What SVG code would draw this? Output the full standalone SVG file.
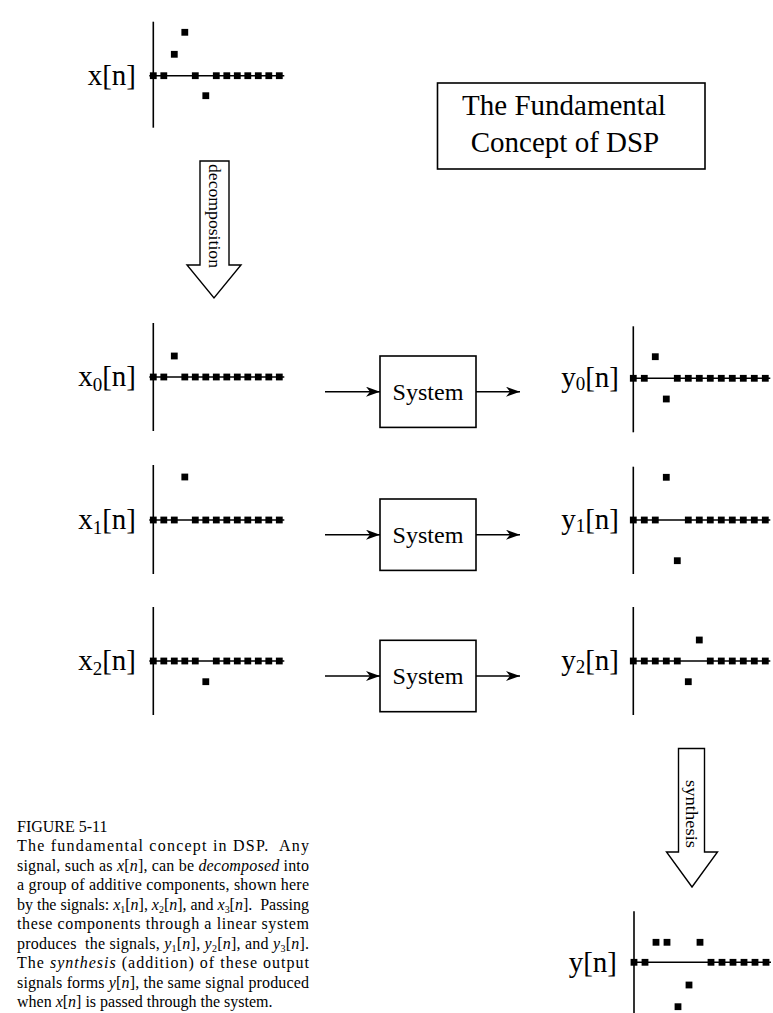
<svg xmlns="http://www.w3.org/2000/svg" width="773" height="1013" viewBox="0 0 773 1013">
<defs>
<style>
.ax{stroke:#000;stroke-width:1.6;fill:none}
.lbl{font-family:"Liberation Serif","Times New Roman",serif;font-size:29px;fill:#000}
.sub{font-size:19px}
.box{fill:#fff;stroke:#000;stroke-width:1.6}
.sys{font-family:"Liberation Serif","Times New Roman",serif;font-size:24px;fill:#000}
.ttl{font-family:"Liberation Serif","Times New Roman",serif;font-size:29px;fill:#000}
.cap{font-family:"Liberation Serif","Times New Roman",serif;font-size:16px;fill:#000}
.it{font-style:italic}
.cs{font-size:10px}
.blk{fill:#fff;stroke:#000;stroke-width:1.4}
.rot{font-family:"Liberation Serif","Times New Roman",serif;font-size:17px;fill:#000}
.conn{stroke:#000;stroke-width:1.6;fill:none}
</style>
<rect id="d" x="-3.4" y="-3.4" width="6.8" height="6.8" fill="#000"/>
<marker id="ah" viewBox="0 0 14 10" refX="14" refY="5" markerWidth="14" markerHeight="10" markerUnits="userSpaceOnUse" orient="auto">
<path d="M0,0 L14,5 L0,10 L4,5 Z" fill="#000"/>
</marker>
</defs>
<rect width="773" height="1013" fill="#fff"/>

<g id="plot-x">
<text class="lbl" x="136" y="85" text-anchor="end">x[n]</text>
<g transform="translate(153.3,75.7)">
<line class="ax" x1="0" y1="-54" x2="0" y2="52"/>
<line class="ax" x1="-4" y1="0" x2="131" y2="0"/>
<use href="#d" x="0" y="0"/><use href="#d" x="10.5" y="0"/><use href="#d" x="21" y="-21.4"/><use href="#d" x="31.5" y="-43.4"/><use href="#d" x="42" y="0"/><use href="#d" x="52.5" y="20"/><use href="#d" x="63" y="0"/><use href="#d" x="73.5" y="0"/><use href="#d" x="84" y="0"/><use href="#d" x="94.5" y="0"/><use href="#d" x="105" y="0"/><use href="#d" x="115.5" y="0"/><use href="#d" x="126" y="0"/>
</g>
</g>

<g id="title">
<rect x="437.5" y="83" width="267.5" height="86" fill="#fff" stroke="#000" stroke-width="1.6"/>
<text class="ttl" x="564" y="115" text-anchor="middle">The Fundamental</text>
<text class="ttl" x="565" y="152" text-anchor="middle">Concept of DSP</text>
</g>

<g id="decomposition">
<path class="blk" d="M200,161 L229,161 L229,265 L241,265 L214,298 L187,265 L200,265 Z"/>
<text class="rot" transform="translate(214.5,216) rotate(90)" text-anchor="middle" dy="0.33em" textLength="104" lengthAdjust="spacingAndGlyphs">decomposition</text>
</g>

<g id="plot-x0">
<text class="lbl" x="136" y="386" text-anchor="end">x<tspan class="sub" dy="5">0</tspan><tspan dy="-5">[n]</tspan></text>
<g transform="translate(153.3,377)">
<line class="ax" x1="0" y1="-54" x2="0" y2="54"/>
<line class="ax" x1="-4" y1="0" x2="131" y2="0"/>
<use href="#d" x="0" y="0"/><use href="#d" x="10.5" y="0"/><use href="#d" x="21" y="-21"/><use href="#d" x="31.5" y="0"/><use href="#d" x="42" y="0"/><use href="#d" x="52.5" y="0"/><use href="#d" x="63" y="0"/><use href="#d" x="73.5" y="0"/><use href="#d" x="84" y="0"/><use href="#d" x="94.5" y="0"/><use href="#d" x="105" y="0"/><use href="#d" x="115.5" y="0"/><use href="#d" x="126" y="0"/>
</g>
</g>

<g id="plot-x1">
<text class="lbl" x="136" y="529" text-anchor="end">x<tspan class="sub" dy="5">1</tspan><tspan dy="-5">[n]</tspan></text>
<g transform="translate(153.3,520)">
<line class="ax" x1="0" y1="-55" x2="0" y2="54"/>
<line class="ax" x1="-4" y1="0" x2="131" y2="0"/>
<use href="#d" x="0" y="0"/><use href="#d" x="10.5" y="0"/><use href="#d" x="21" y="0"/><use href="#d" x="31.5" y="-43"/><use href="#d" x="42" y="0"/><use href="#d" x="52.5" y="0"/><use href="#d" x="63" y="0"/><use href="#d" x="73.5" y="0"/><use href="#d" x="84" y="0"/><use href="#d" x="94.5" y="0"/><use href="#d" x="105" y="0"/><use href="#d" x="115.5" y="0"/><use href="#d" x="126" y="0"/>
</g>
</g>

<g id="plot-x2">
<text class="lbl" x="136" y="670" text-anchor="end">x<tspan class="sub" dy="5">2</tspan><tspan dy="-5">[n]</tspan></text>
<g transform="translate(153.3,661)">
<line class="ax" x1="0" y1="-54" x2="0" y2="54"/>
<line class="ax" x1="-4" y1="0" x2="131" y2="0"/>
<use href="#d" x="0" y="0"/><use href="#d" x="10.5" y="0"/><use href="#d" x="21" y="0"/><use href="#d" x="31.5" y="0"/><use href="#d" x="42" y="0"/><use href="#d" x="52.5" y="20.7"/><use href="#d" x="63" y="0"/><use href="#d" x="73.5" y="0"/><use href="#d" x="84" y="0"/><use href="#d" x="94.5" y="0"/><use href="#d" x="105" y="0"/><use href="#d" x="115.5" y="0"/><use href="#d" x="126" y="0"/>
</g>
</g>

<g id="system0">
<rect class="box" x="380" y="356" width="96" height="71.4"/>
<text class="sys" x="428" y="400" text-anchor="middle" textLength="71" lengthAdjust="spacingAndGlyphs">System</text>
</g>
<g id="system1">
<rect class="box" x="380" y="499" width="96" height="71.4"/>
<text class="sys" x="428" y="543" text-anchor="middle" textLength="71" lengthAdjust="spacingAndGlyphs">System</text>
</g>
<g id="system2">
<rect class="box" x="380" y="640.3" width="96" height="71.4"/>
<text class="sys" x="428" y="684.3" text-anchor="middle" textLength="71" lengthAdjust="spacingAndGlyphs">System</text>
</g>

<g id="connectors">
<line class="conn" x1="325" y1="391.7" x2="380" y2="391.7" marker-end="url(#ah)"/>
<line class="conn" x1="476" y1="391.7" x2="520" y2="391.7" marker-end="url(#ah)"/>
<line class="conn" x1="325" y1="534.7" x2="380" y2="534.7" marker-end="url(#ah)"/>
<line class="conn" x1="476" y1="534.7" x2="520" y2="534.7" marker-end="url(#ah)"/>
<line class="conn" x1="325" y1="676" x2="380" y2="676" marker-end="url(#ah)"/>
<line class="conn" x1="476" y1="676" x2="520" y2="676" marker-end="url(#ah)"/>
</g>

<g id="plot-y0">
<text class="lbl" x="619" y="387" text-anchor="end">y<tspan class="sub" dy="3">0</tspan><tspan dy="-3">[n]</tspan></text>
<g transform="translate(633.3,378.3)">
<line class="ax" x1="0" y1="-52" x2="0" y2="54"/>
<line class="ax" x1="-3" y1="0" x2="137" y2="0"/>
<use href="#d" x="0" y="0"/><use href="#d" x="11" y="0"/><use href="#d" x="22" y="-21.6"/><use href="#d" x="33" y="20.7"/><use href="#d" x="44" y="0"/><use href="#d" x="55" y="0"/><use href="#d" x="66" y="0"/><use href="#d" x="77" y="0"/><use href="#d" x="88" y="0"/><use href="#d" x="99" y="0"/><use href="#d" x="110" y="0"/><use href="#d" x="121" y="0"/><use href="#d" x="132" y="0"/>
</g>
</g>

<g id="plot-y1">
<text class="lbl" x="619" y="529" text-anchor="end">y<tspan class="sub" dy="3">1</tspan><tspan dy="-3">[n]</tspan></text>
<g transform="translate(633.3,520)">
<line class="ax" x1="0" y1="-53.3" x2="0" y2="54"/>
<line class="ax" x1="-3" y1="0" x2="137" y2="0"/>
<use href="#d" x="0" y="0"/><use href="#d" x="11" y="0"/><use href="#d" x="22" y="0"/><use href="#d" x="33" y="-42.7"/><use href="#d" x="44" y="40.7"/><use href="#d" x="55" y="0"/><use href="#d" x="66" y="0"/><use href="#d" x="77" y="0"/><use href="#d" x="88" y="0"/><use href="#d" x="99" y="0"/><use href="#d" x="110" y="0"/><use href="#d" x="121" y="0"/><use href="#d" x="132" y="0"/>
</g>
</g>

<g id="plot-y2">
<text class="lbl" x="619" y="670" text-anchor="end">y<tspan class="sub" dy="3">2</tspan><tspan dy="-3">[n]</tspan></text>
<g transform="translate(633.3,661)">
<line class="ax" x1="0" y1="-54" x2="0" y2="54"/>
<line class="ax" x1="-3" y1="0" x2="137" y2="0"/>
<use href="#d" x="0" y="0"/><use href="#d" x="11" y="0"/><use href="#d" x="22" y="0"/><use href="#d" x="33" y="0"/><use href="#d" x="44" y="0"/><use href="#d" x="55" y="20.7"/><use href="#d" x="66" y="-21"/><use href="#d" x="77" y="0"/><use href="#d" x="88" y="0"/><use href="#d" x="99" y="0"/><use href="#d" x="110" y="0"/><use href="#d" x="121" y="0"/><use href="#d" x="132" y="0"/>
</g>
</g>

<g id="synthesis">
<path class="blk" d="M678.5,748.5 L704.5,748.5 L704.5,852 L717.5,852 L692,887 L666.5,852 L678.5,852 Z"/>
<text class="rot" transform="translate(691.5,814) rotate(90)" text-anchor="middle" dy="0.33em" textLength="68" lengthAdjust="spacingAndGlyphs">synthesis</text>
</g>

<g id="plot-y">
<text class="lbl" x="617" y="972" text-anchor="end">y[n]</text>
<g transform="translate(634,962.3)">
<line class="ax" x1="0" y1="-51" x2="0" y2="52"/>
<line class="ax" x1="-3" y1="0" x2="137" y2="0"/>
<use href="#d" x="0" y="0"/><use href="#d" x="11" y="0"/><use href="#d" x="22" y="-20"/><use href="#d" x="33" y="-20"/><use href="#d" x="44" y="44.4"/><use href="#d" x="55" y="22.7"/><use href="#d" x="66" y="-20"/><use href="#d" x="77" y="0"/><use href="#d" x="88" y="0"/><use href="#d" x="99" y="0"/><use href="#d" x="110" y="0"/><use href="#d" x="121" y="0"/><use href="#d" x="132" y="0"/>
</g>
</g>

<g id="caption">
<text class="cap" x="17" y="831.5">FIGURE 5-11</text>
<text class="cap" x="17" y="851" textLength="292" lengthAdjust="spacing">The fundamental concept in DSP.&#160; Any</text>
<text class="cap" x="17" y="870.5" textLength="292" lengthAdjust="spacing">signal, such as <tspan class="it">x</tspan>[<tspan class="it">n</tspan>], can be <tspan class="it">decomposed</tspan> into</text>
<text class="cap" x="17" y="890" textLength="292" lengthAdjust="spacing">a group of additive components, shown here</text>
<text class="cap" x="17" y="909.5" textLength="292" lengthAdjust="spacing">by the signals: <tspan class="it">x</tspan><tspan class="cs" dy="3">1</tspan><tspan dy="-3">[</tspan><tspan class="it">n</tspan>], <tspan class="it">x</tspan><tspan class="cs" dy="3">2</tspan><tspan dy="-3">[</tspan><tspan class="it">n</tspan>], and <tspan class="it">x</tspan><tspan class="cs" dy="3">3</tspan><tspan dy="-3">[</tspan><tspan class="it">n</tspan>].&#160; Passing</text>
<text class="cap" x="17" y="929" textLength="292" lengthAdjust="spacing">these components through a linear system</text>
<text class="cap" x="17" y="948.5" textLength="292" lengthAdjust="spacing">produces&#160; the signals, <tspan class="it">y</tspan><tspan class="cs" dy="3">1</tspan><tspan dy="-3">[</tspan><tspan class="it">n</tspan>], <tspan class="it">y</tspan><tspan class="cs" dy="3">2</tspan><tspan dy="-3">[</tspan><tspan class="it">n</tspan>], and <tspan class="it">y</tspan><tspan class="cs" dy="3">3</tspan><tspan dy="-3">[</tspan><tspan class="it">n</tspan>].</text>
<text class="cap" x="17" y="968" textLength="292" lengthAdjust="spacing">The <tspan class="it">synthesis</tspan> (addition) of these output</text>
<text class="cap" x="17" y="987.5" textLength="292" lengthAdjust="spacing">signals forms <tspan class="it">y</tspan>[<tspan class="it">n</tspan>], the same signal produced</text>
<text class="cap" x="17" y="1006.5">when <tspan class="it">x</tspan>[<tspan class="it">n</tspan>] is passed through the system.</text>
</g>
</svg>
